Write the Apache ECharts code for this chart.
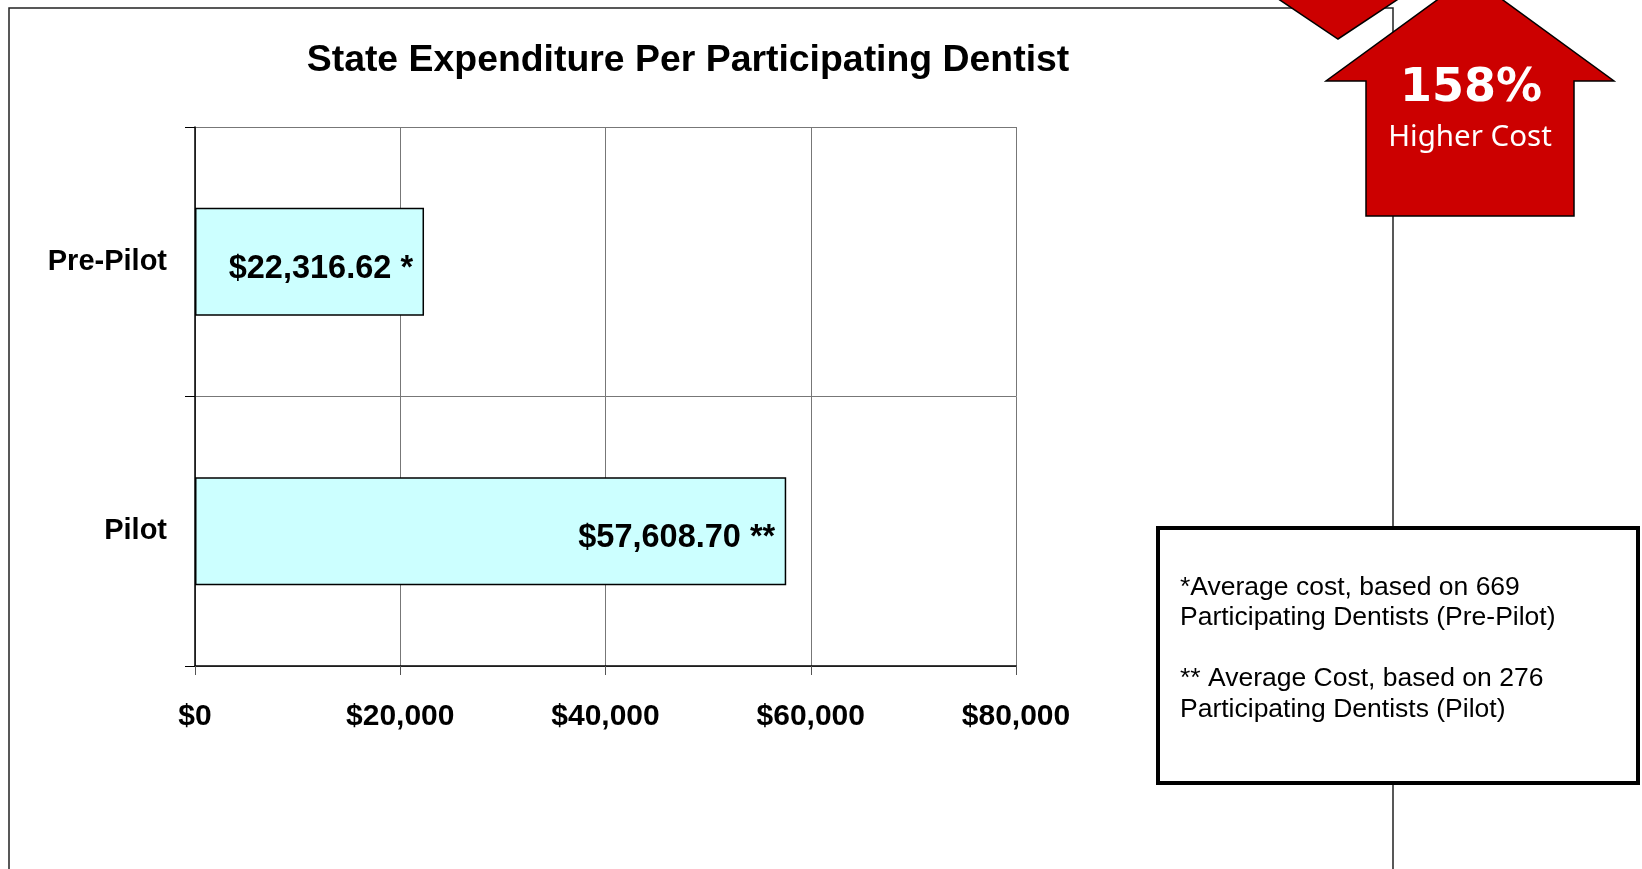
<!DOCTYPE html>
<html>
<head>
<meta charset="utf-8">
<script src="https://cdn.jsdelivr.net/npm/echarts@6/dist/echarts.min.js"></script>
<style>
html,body{margin:0;padding:0;background:#fff;}
#c{width:1642px;height:869px;}
</style>
</head>
<body>
<div id="c"></div>
<script>
const categories = ['Pre-Pilot', 'Pilot'];
const values = [22316.62, 57608.70];
const markers = ['*', '**'];
const xMin = 0, xMax = 80000, xStep = 20000;
const titleText = 'State Expenditure Per Participating Dentist';
const noteLines = [
  '*Average cost, based on 669',
  'Participating Dentists (Pre-Pilot)',
  '',
  '** Average Cost, based on 276',
  'Participating Dentists (Pilot)'
];
const arrowTop = '158%';
const arrowBottom = 'Higher Cost';

const font = '"Liberation Sans", Arial, sans-serif';
const chart = echarts.init(document.getElementById('c'));

function money(v, d) {
  return '$' + v.toLocaleString('en-US', {minimumFractionDigits: d, maximumFractionDigits: d});
}

chart.setOption({
  animation: false,
  backgroundColor: '#fff',
  title: {
    text: titleText,
    left: 683, top: 56,
    textAlign: 'center', textVerticalAlign: 'middle',
    textStyle: {fontFamily: font, fontWeight: 'bold', fontSize: 37.4, color: '#000'}
  },
  grid: {left: 195, right: 626, top: 127, bottom: 203, containLabel: false},
  xAxis: {
    type: 'value', min: xMin, max: xMax, interval: xStep,
    axisLine: {show: true, lineStyle: {color: '#000', width: 1.5}},
    axisTick: {show: true, length: 9, lineStyle: {color: '#555'}},
    splitLine: {show: true, lineStyle: {color: '#777', width: 1}},
    axisLabel: {
      margin: 36, fontFamily: font, fontWeight: 'bold', fontSize: 30, color: '#000',
      formatter: v => money(v, 0)
    }
  },
  yAxis: {
    type: 'category', data: categories, inverse: true,
    axisLine: {show: true, lineStyle: {color: '#000', width: 1.5}},
    axisTick: {show: true, length: 10, lineStyle: {color: '#000'}},
    splitLine: {show: true, lineStyle: {color: '#777', width: 1}},
    axisLabel: {margin: 28, fontFamily: font, fontWeight: 'bold', fontSize: 29, color: '#000'}
  },
  series: [{
    type: 'bar',
    data: values,
    barWidth: '40%',
    itemStyle: {color: '#CCFFFF', borderColor: '#000', borderWidth: 1.5},
    label: {
      show: true, position: 'insideRight', distance: 11, offset: [0, 7],
      fontFamily: font, fontWeight: 'bold', fontSize: 32.5, color: '#000',
      formatter: p => money(p.value, 2) + ' ' + markers[p.dataIndex]
    }
  }],
  graphic: [
    {type: 'polyline', z: 1, shape: {points: [[9, 869], [9, 8], [1393, 8], [1393, 869]]},
     style: {stroke: '#222', lineWidth: 1.5, fill: null}},
    {type: 'rect', z: 5, shape: {x: 1158, y: 528, width: 480, height: 255},
     style: {fill: '#fff', stroke: '#000', lineWidth: 4}},
    {type: 'text', z: 6, left: 1180, top: 572,
     style: {text: noteLines.join('\n'), fontFamily: font, fontSize: 26.5, lineHeight: 30.5, fill: '#000'}},
    {type: 'polygon', z: 5, shape: {points: [[1250, -20], [1338, 39], [1427, -20]]},
     style: {fill: '#CC0000', stroke: '#000', lineWidth: 1.5}},
    {type: 'polygon', z: 5, shape: {points: [[1470, -24], [1614, 81], [1574, 81], [1574, 216], [1366, 216], [1366, 81], [1326, 81]]},
     style: {fill: '#CC0000', stroke: '#000', lineWidth: 1.5}},
    {type: 'text', z: 6, x: 1471, y: 89,
     style: {text: arrowTop, fontFamily: '"DejaVu Sans", sans-serif', fontWeight: 'bold', fontSize: 46, fill: '#fff', align: 'center', verticalAlign: 'middle'}},
    {type: 'text', z: 6, x: 1470, y: 138,
     style: {text: arrowBottom, fontFamily: '"Noto Sans", "DejaVu Sans", sans-serif', fontSize: 29.5, fill: '#fff', align: 'center', verticalAlign: 'middle'}}
  ]
});
</script>
</body>
</html>
